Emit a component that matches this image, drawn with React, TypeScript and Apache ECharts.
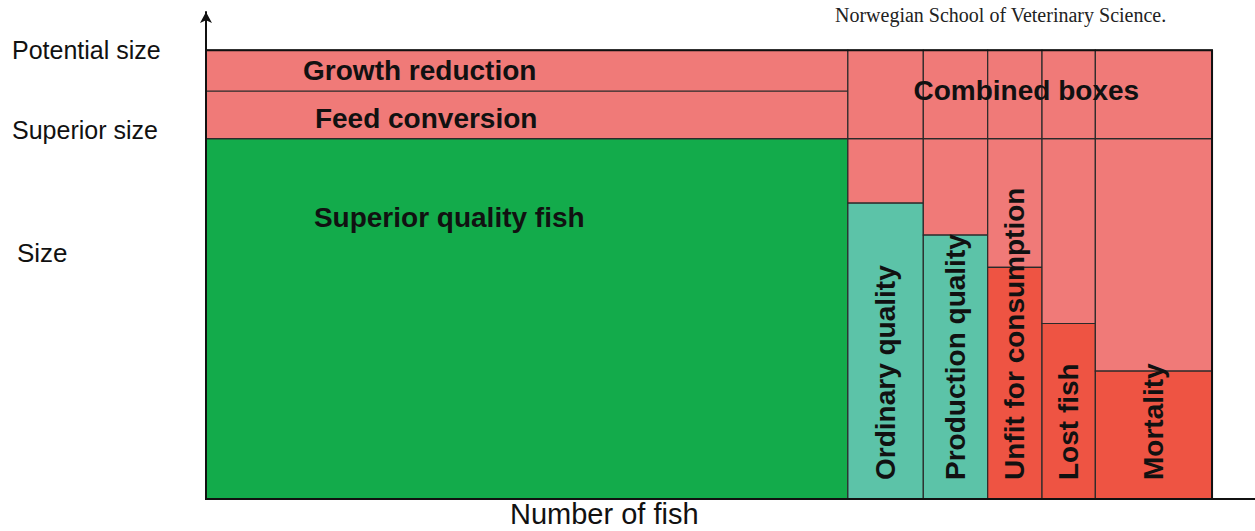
import React, { useEffect, useRef } from "react";
import * as echarts from "echarts";

// ---- data ----
const columns = [
  "Superior quality fish",
  "Ordinary quality",
  "Production quality",
  "Unfit for consumption",
  "Lost fish",
  "Mortality",
];
const columnClass = ["superior", "ordinary", "ordinary", "reject", "reject", "reject"];
// share of the number of fish (x extent of each box)
const fishShare = [63.8, 7.5, 6.4, 5.4, 5.3, 11.6];
// size reached by each group (potential size = 100)
const achievedSize = [80.3, 65.9, 58.8, 51.6, 39.1, 28.5];
const potentialSize = 100;
const superiorSize = 80.3;
const feedConversionTop = 90.9;
const lossBands = ["Growth reduction", "Feed conversion"];
const combinedLabel = "Combined boxes";
const sizeTickValues = [100, 82.1, 54.9];
const sizeTickLabels = ["Potential size", "Superior size", "Size"];
const xAxisName = "Number of fish";
const sourceNote = "Norwegian School of Veterinary Science.";

// ---- styles ----
const FONT = '"Liberation Sans", Arial, Helvetica, sans-serif';
const COLORS: Record<string, string> = {
  superior: "#13AB4B",
  ordinary: "#5CC3A8",
  reject: "#EE5443",
  loss: "#F07A78",
};
const STROKE = "#2a2a2a";
const labelFrac: Record<string, [number, number]> = {
  "Growth reduction": [0.333, 0.49],
  "Feed conversion": [0.343, 0.57],
  "Superior quality fish": [0.379, 0.22],
  "Combined boxes": [0.49, 0.46],
};

type Box = {
  x0: number;
  x1: number;
  y0: number;
  y1: number;
  kind: string;
  label?: string;
  mode?: string;
};

function buildBoxes(): Box[] {
  const boxes: Box[] = [];
  let start = 0;
  columns.forEach((name, i) => {
    const end = start + fishShare[i];
    if (i === 0) {
      boxes.push({ x0: start, x1: end, y0: 0, y1: achievedSize[i], kind: columnClass[i], label: name, mode: "band" });
      boxes.push({ x0: start, x1: end, y0: superiorSize, y1: feedConversionTop, kind: "loss", label: lossBands[1], mode: "band" });
      boxes.push({ x0: start, x1: end, y0: feedConversionTop, y1: potentialSize, kind: "loss", label: lossBands[0], mode: "band" });
    } else {
      boxes.push({ x0: start, x1: end, y0: achievedSize[i], y1: superiorSize, kind: "loss" });
      boxes.push({ x0: start, x1: end, y0: superiorSize, y1: potentialSize, kind: "loss" });
      boxes.push({ x0: start, x1: end, y0: 0, y1: achievedSize[i], kind: columnClass[i], label: name, mode: "vertical" });
    }
    start = end;
  });
  boxes.push({ x0: fishShare[0], x1: start, y0: superiorSize, y1: potentialSize, kind: "none", label: combinedLabel, mode: "band" });
  boxes.push({ x0: 0, x1: start, y0: 0, y1: potentialSize, kind: "frame" });
  return boxes;
}

export default function App() {
  const ref = useRef<HTMLDivElement>(null);
  useEffect(() => {
    if (!ref.current) return;
    const chart = echarts.init(ref.current, undefined, { renderer: "svg" });
    const boxes = buildBoxes();
    const xMax = 104.27;
    const yMax = 108.5;

    const renderItem = (params: any, api: any) => {
      const b = boxes[params.dataIndex];
      const p0 = api.coord([b.x0, b.y0]);
      const p1 = api.coord([b.x1, b.y1]);
      const x = p0[0];
      const y = p1[1];
      const w = p1[0] - p0[0];
      const h = p0[1] - p1[1];
      const children: any[] = [];
      if (b.kind === "frame") {
        children.push({
          type: "rect",
          shape: { x, y, width: w, height: h },
          style: { fill: "none", stroke: "#111", lineWidth: 2 },
        });
      } else if (b.kind !== "none") {
        children.push({
          type: "rect",
          shape: { x, y, width: w, height: h },
          style: { fill: COLORS[b.kind], stroke: STROKE, lineWidth: 1.2 },
        });
      }
      if (b.label) {
        const textStyle = {
          text: b.label,
          fill: "#111",
          font: `bold 28px ${FONT}`,
        };
        if (b.mode === "vertical") {
          children.push({
            type: "text",
            x: x + w / 2,
            y: p0[1] - 19,
            rotation: Math.PI / 2,
            style: { ...textStyle, align: "left", verticalAlign: "middle" },
            z2: 10,
          });
        } else {
          const f = labelFrac[b.label] || [0.5, 0.5];
          children.push({
            type: "text",
            x: x + w * f[0],
            y: y + h * f[1],
            style: { ...textStyle, align: "center", verticalAlign: "middle" },
            z2: 10,
          });
        }
      }
      return { type: "group", children };
    };

    chart.setOption({
      animation: false,
      backgroundColor: "#ffffff",
      grid: { left: 206, right: 0, top: 12, bottom: 32 },
      xAxis: {
        type: "value",
        min: 0,
        max: xMax,
        z: 10,
        axisLine: { show: true, lineStyle: { color: "#111", width: 2 } },
        axisTick: { show: false },
        axisLabel: { show: false },
        splitLine: { show: false },
      },
      yAxis: {
        type: "value",
        min: 0,
        max: yMax,
        z: 10,
        axisLine: {
          show: true,
          symbol: ["none", "arrow"],
          symbolSize: [9, 11],
          lineStyle: { color: "#111", width: 2 },
        },
        axisTick: { show: false },
        splitLine: { show: false },
        axisLabel: {
          show: true,
          customValues: sizeTickValues,
          align: "left",
          margin: 194,
          color: "#111",
          fontFamily: FONT,
          fontSize: 25,
          formatter: (v: number) => {
            const idx = sizeTickValues.findIndex((t) => Math.abs(t - v) < 1e-6);
            if (idx < 0) return "";
            const t = sizeTickLabels[idx];
            return idx === 2 ? `{s|${t}}` : t;
          },
          rich: {
            s: { fontFamily: FONT, fontSize: 26, color: "#111", padding: [0, 0, 0, 5] },
          },
        },
      },
      graphic: [
        {
          type: "text",
          x: 510,
          y: 514,
          style: {
            text: xAxisName,
            font: `29px ${FONT}`,
            fill: "#111",
            align: "left",
            verticalAlign: "middle",
          },
        },
        {
          type: "text",
          x: 835,
          y: 15,
          style: {
            text: sourceNote,
            font: `20px "Liberation Serif", "Times New Roman", serif`,
            fill: "#222",
            align: "left",
            verticalAlign: "middle",
          },
        },
      ],
      series: [
        {
          type: "custom",
          renderItem,
          clip: false,
          data: boxes.map((b) => [b.x0, b.x1, b.y0, b.y1]),
          encode: { x: [0, 1], y: [2, 3] },
        },
      ],
    });
    return () => chart.dispose();
  }, []);
  return (
    <div
      ref={ref}
      style={{ position: "absolute", left: 0, top: 0, width: 1255, height: 531 }}
    />
  );
}
